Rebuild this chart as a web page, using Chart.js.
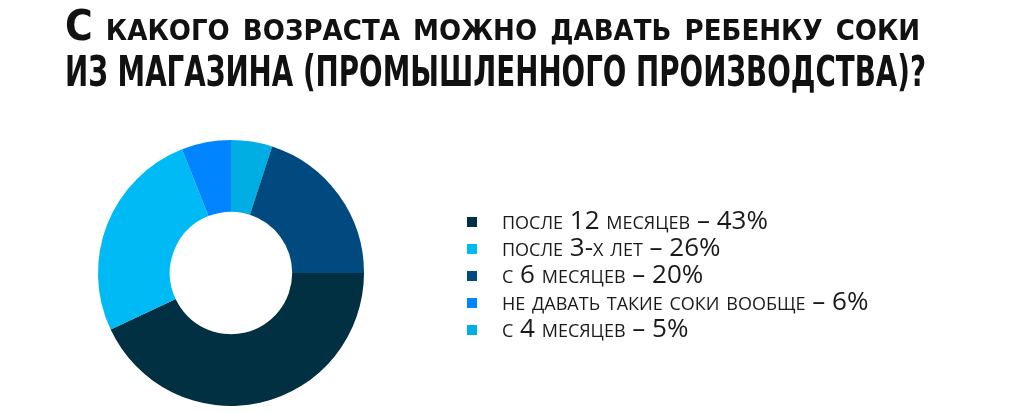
<!DOCTYPE html>
<html><head><meta charset="utf-8">
<script src="https://cdn.jsdelivr.net/npm/chart.js@4/dist/chart.umd.min.js"></script>
<style>html,body{margin:0;padding:0;background:#fff}#wrap{width:1024px;height:413px;position:relative}</style>
</head><body><div id="wrap"><canvas id="c"></canvas></div>
<script>
const titleLines = ['С какого возраста можно давать ребенку соки', 'ИЗ МАГАЗИНА (ПРОМЫШЛЕННОГО ПРОИЗВОДСТВА)?'];
const categories = ['с 4 месяцев', 'с 6 месяцев', 'после 12 месяцев', 'после 3-х лет', 'не давать такие соки вообще'];
const percents = [5, 20, 43, 26, 6];
const colors = ['#00aee3', '#004a80', '#003042', '#00baf5', '#0084ff'];

const legendFont = { family: 'Open Sans', size: 26, weight: 'small-caps 400' };
const legendTexts = categories.map((c, i) => c + ' – ' + percents[i] + '%');

// legend width from measured text so that the ring sits on the left half
const mctx = document.createElement('canvas').getContext('2d');
mctx.font = legendFont.weight + ' ' + legendFont.size + 'px ' + legendFont.family;
const longest = Math.max(...legendTexts.map(t => mctx.measureText(t).width));
const boxW = 26, pad = 1;
const legendWidth = pad + boxW + legendFont.size / 2 + longest + 10;
const padRight = Math.max(0, 1024 - 462 - legendWidth);

function swatch(color) {
  const c = document.createElement('canvas');
  c.width = 18; c.height = 10;
  const g = c.getContext('2d');
  g.fillStyle = color;
  g.fillRect(0, 0, 10, 10);
  return c;
}

const placeTitle = {
  id: 'placeTitle',
  afterLayout(chart) {
    const t = chart.titleBlock;
    t.left = 65; t.right = 926; t.width = t.right - t.left;
  }
};

new Chart(document.getElementById('c'), {
  type: 'doughnut',
  data: {
    labels: categories,
    datasets: [{ data: percents, backgroundColor: colors, borderWidth: 0, hoverOffset: 0 }]
  },
  plugins: [placeTitle],
  options: {
    responsive: true,
    maintainAspectRatio: false,
    animation: false,
    cutout: '46%',
    layout: { padding: { left: 0, right: padRight, top: 0, bottom: 7 } },
    plugins: {
      tooltip: { enabled: false },
      title: {
        display: true,
        text: titleLines,
        align: 'start',
        color: '#111',
        font: { family: 'DejaVu Sans Condensed', size: 42, weight: 'small-caps bold', lineHeight: 1.095 },
        padding: { top: 6, bottom: 42 }
      },
      legend: {
        position: 'right',
        align: 'center',
        fullSize: false,
        title: { display: true, text: '', font: { size: 6, lineHeight: 1 }, padding: 0 },
        labels: {
          usePointStyle: true,
          pointStyleWidth: boxW,
          padding: pad,
          color: '#1a1a1a',
          font: legendFont,
          generateLabels(chart) {
            const ds = chart.data.datasets[0];
            return chart.data.labels.map((l, i) => ({
              text: legendTexts[i],
              fillStyle: ds.backgroundColor[i],
              strokeStyle: ds.backgroundColor[i],
              lineWidth: 0,
              pointStyle: swatch(ds.backgroundColor[i]),
              fontColor: '#1a1a1a',
              hidden: false,
              index: i
            }));
          },
          sort: (a, b) => percents[b.index] - percents[a.index]
        }
      }
    }
  }
});
</script></body></html>
